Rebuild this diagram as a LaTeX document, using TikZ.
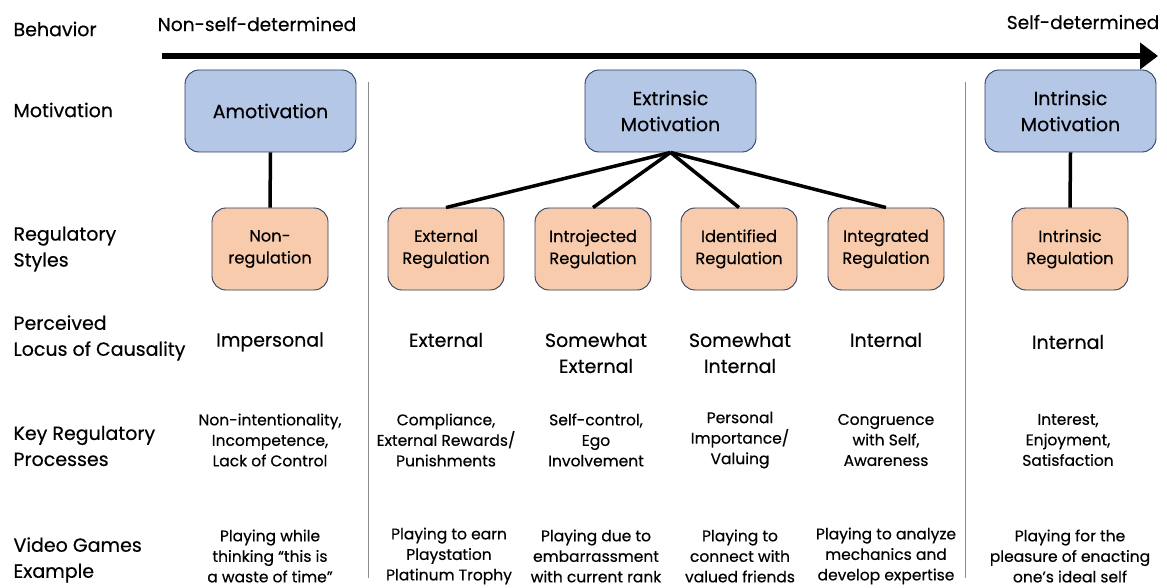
\documentclass[tikz,border=0pt]{standalone}
\usepackage{fontspec}
\setmainfont{Poppins}[FakeBold=0.4]
\usetikzlibrary{arrows.meta}
\definecolor{bluefill}{HTML}{B4C7E7}
\definecolor{orfill}{HTML}{F8CBAD}
\definecolor{boxline}{HTML}{2E3F5C}
\definecolor{sepgray}{HTML}{8C8C8C}
\tikzset{
  rowlab/.style={anchor=west, align=left, font=\fontsize{19}{26}\selectfont},
  motbox/.style={draw=boxline, line width=0.9pt, fill=bluefill, rounded corners=14pt, minimum width=171pt, minimum height=82pt, align=center, font=\fontsize{19}{26}\selectfont},
  regbox/.style={draw=boxline, line width=0.9pt, fill=orfill, rounded corners=14pt, minimum width=116pt, minimum height=82pt, align=center, font=\fontsize{16.3}{22}\selectfont},
  locus/.style={align=center, font=\fontsize{19}{26}\selectfont},
  small/.style={align=center, font=\fontsize{15.5}{20.5}\selectfont},
  conn/.style={line width=3.5pt},
  sep/.style={draw=sepgray, line width=0.8pt}
}
\begin{document}
\begin{tikzpicture}[x=1pt,y=-1pt]
\useasboundingbox (0,0) rectangle (1167,588);
% header
\node[rowlab] (hbeh) at (10,29) {Behavior};
\node[anchor=center, font=\fontsize{18.6}{24}\selectfont] (nsd) at (257,24) {Non-self-determined};
\node[anchor=center, font=\fontsize{18.6}{24}\selectfont] (sd) at (1083,22) {Self-determined};
\coordinate (aL) at (162,56);
\coordinate (aR) at (1158,56);
\draw[line width=6pt, -{Triangle[length=18pt,width=26pt]}] (aL) -- (aR);
% separators
\coordinate (s1t) at (368,82); \coordinate (s1b) at (368,578);
\coordinate (s2t) at (965,82); \coordinate (s2b) at (965,578);
\draw[sep] (s1t) -- (s1b);
\draw[sep] (s2t) -- (s2b);
% row labels
\node[rowlab] (lmot) at (10,110) {Motivation};
\node[rowlab] (lreg) at (10,249) {Regulatory\\Styles};
\node[rowlab] (lloc) at (10,338) {Perceived\\Locus of Causality};
\node[rowlab] (lkey) at (10,446) {Key Regulatory\\Processes};
\node[rowlab] (lvid) at (10,560) {Video Games\\Example};
% motivation boxes
\node[motbox] (amot) at (270.5,111) {Amotivation};
\node[motbox] (ext) at (670.5,111) {Extrinsic\\Motivation};
\node[motbox] (intr) at (1070.5,111) {Intrinsic\\Motivation};
% regulation boxes
\node[regbox] (nonreg) at (270,249) {Non-\\regulation};
\node[regbox] (extreg) at (446,249) {External\\Regulation};
\node[regbox] (introreg) at (593,249) {Introjected\\Regulation};
\node[regbox] (identreg) at (739,249) {Identified\\Regulation};
\node[regbox] (integreg) at (886,249) {Integrated\\Regulation};
\node[regbox] (intrreg) at (1070,249) {Intrinsic\\Regulation};
% connectors
\draw[conn] (amot.south) -- (nonreg.north);
\draw[conn] (intr.south) -- (intrreg.north);
\draw[conn] (ext.south) -- (extreg.north);
\draw[conn] (ext.south) -- (introreg.north);
\draw[conn] (ext.south) -- (identreg.north);
\draw[conn] (ext.south) -- (integreg.north);
% locus
\node[locus] (l1) at (270,342) {Impersonal};
\node[locus] (l2) at (446,340) {External};
\node[locus] (l3) at (596,353) {Somewhat\\External};
\node[locus] (l4) at (740,353) {Somewhat\\Internal};
\node[locus] (l5) at (886,340) {Internal};
\node[locus] (l6) at (1068,342) {Internal};
% key processes
\node[small] (k1) at (270,440) {Non-intentionality,\\Incompetence,\\Lack of Control};
\node[small] (k2) at (446,440) {Compliance,\\External Rewards/\\Punishments};
\node[small] (k3) at (596,440) {Self-control,\\Ego\\Involvement};
\node[small] (k4) at (740,440) {Personal\\Importance/\\Valuing};
\node[small] (k5) at (886,440) {Congruence\\with Self,\\Awareness};
\node[small] (k6) at (1068,440) {Interest,\\Enjoyment,\\Satisfaction};
% video games
\node[small] (v1) at (270,556) {Playing while\\thinking “this is\\a waste of time”};
\node[small] (v2) at (449,556) {Playing to earn\\Playstation\\Platinum Trophy};
\node[small] (v3) at (596,556) {Playing due to\\embarrassment\\with current rank};
\node[small] (v4) at (740,556) {Playing to\\connect with\\valued friends};
\node[small] (v5) at (886,556) {Playing to analyze\\mechanics and\\develop expertise};
\node[small] (v6) at (1070,556) {Playing for the\\pleasure of enacting\\one’s ideal self};
\end{tikzpicture}
\end{document}
